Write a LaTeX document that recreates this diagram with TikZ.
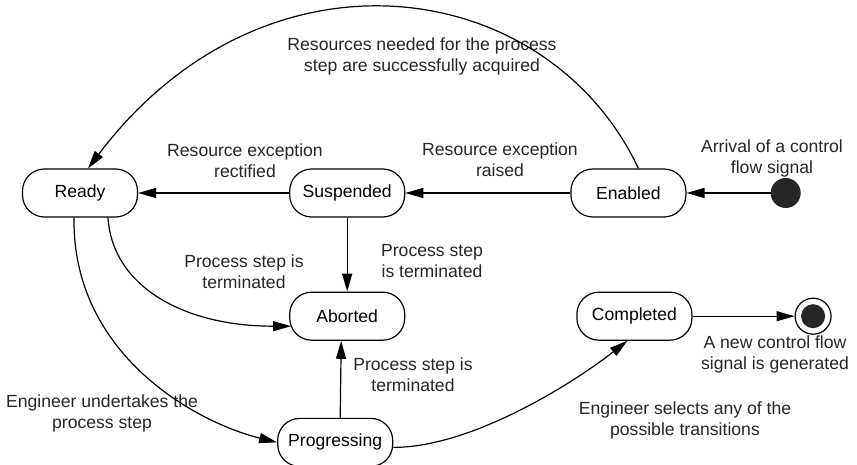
\documentclass[tikz,border=0pt]{standalone}
\usepackage{fontspec}
\setmainfont{Liberation Sans}
\usetikzlibrary{positioning, arrows.meta}
\newcommand{\diagfont}{\fontsize{17.6}{21}\selectfont}
\tikzstyle{state} = [
    rectangle,
    rounded corners=22pt,
    minimum width=115pt,
    minimum height=48pt,
    line width=1.2pt,
    draw=black,
    font=\diagfont
]
\tikzstyle{initial} = [
    circle,
    fill=black!85,
    minimum size=30pt,
    inner sep=0pt
]
\tikzstyle{final} = [
    circle,
    minimum size=36pt,
    line width=1.2pt,
    inner sep=0pt,
    draw=black
]
\tikzstyle{note} = [
    align=center,
    inner sep=0pt,
    text=black!85,
    font=\diagfont
]
\tikzstyle{arrow} = [line width=1.2pt,-{Triangle[length=18pt,width=10pt]}]

\begin{document}
\begin{tikzpicture}[x=1pt, y=1pt]
\useasboundingbox (0,0) rectangle (857,465);

\node (ready) [state] at (80,272) {Ready};
\node (suspended) [state, right=151pt of ready] {Suspended};
\node (enabled) [state, right=165pt of suspended] {Enabled};
\node (start) [initial, right=84pt of enabled] {};

\node (aborted) [state, below=74pt of suspended] {Aborted};
\node (progressing) [state, below=77pt of aborted, xshift=-12pt] {Progressing};
\node (completed) [state, below=74pt of enabled, xshift=6pt] {Completed};
\node (stop) [final, right=102pt of completed] {};
\fill [black!85] (stop.center) circle (12pt);

% transition labels
\node (acquired) [note] at (422,409)
{Resources needed for the process\\step are successfully acquired};
\node (rectified) [note] at (245,304) {Resource exception\\rectified};
\node (raised) [note] at (500,305) {Resource exception\\raised};
\node (arrival) [note] at (772,307) {Arrival of a control\\flow signal};
\node (termleft) [note] at (244,193) {Process step is\\terminated};
\node (termright) [note] at (432,204) {Process step\\is terminated};
\node (termlow) [note] at (413,90) {Process step is\\terminated};
\node (generated) [note] at (775,111) {A new control flow\\signal is generated};
\node (undertakes) [note] at (102,52) {Engineer undertakes the\\process step};
\node (selects) [note] at (685,45) {Engineer selects any of the\\possible transitions};

\draw [arrow] (start) -- (enabled);
\draw [arrow] (enabled) -- (suspended);
\draw [arrow] (suspended) -- (ready);
\draw [arrow] (suspended) -- (aborted);
\draw [arrow] ([xshift=5pt]progressing.north) -- ([xshift=-6pt]aborted.south);
\draw [arrow] (completed) -- (stop);

\draw [arrow] ([xshift=10pt]enabled.north)
    .. controls +(-91,193) and +(177,234) .. ([xshift=8pt]ready.north);
\draw [arrow] ([xshift=28pt]ready.south)
    .. controls +(4,-67) and +(-110,0) .. ([xshift=2pt,yshift=-10pt]aborted.west);
\draw [arrow] ([xshift=-6pt]ready.south)
    .. controls +(-2,-137) and +(-81,20) .. (progressing.west);
\draw [arrow] ([yshift=-5pt]progressing.east)
    .. controls +(78,0) and +(-55,-43) .. ([xshift=-7pt]completed.south);

\end{tikzpicture}
\end{document}
